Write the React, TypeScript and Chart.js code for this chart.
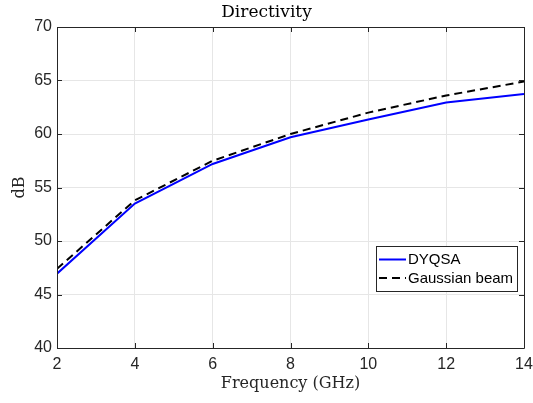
import React, { useEffect, useRef } from "react";
import { Chart, registerables } from "chart.js";

Chart.register(...registerables);

const frequencies = [2, 4, 6, 8, 10, 12, 14];
const dyqsa = [46.95, 53.5, 57.2, 59.7, 61.35, 62.95, 63.75];
const gaussianBeam = [47.4, 53.8, 57.5, 60.0, 62.0, 63.6, 64.9];
const seriesLabels = ["DYQSA", "Gaussian beam"];
const titleText = "Directivity";
const xTitle = "Frequency (GHz)";
const yTitle = "dB";

const AXIS = "#262626";
const SERIF = "'DejaVu Serif', 'Liberation Serif', serif";
const SANS = "'Liberation Sans', Arial, sans-serif";

const whiteBg = {
  id: "whiteBg",
  beforeDraw(chart: any) {
    const c = chart.ctx;
    c.save();
    c.fillStyle = "#fff";
    c.fillRect(0, 0, chart.width, chart.height);
    c.restore();
  },
};

const boxTicks = {
  id: "boxTicks",
  afterDraw(chart: any) {
    const { ctx, chartArea: a, scales } = chart;
    const xs = scales.x;
    const ys = scales.y;
    ctx.save();
    ctx.strokeStyle = AXIS;
    ctx.lineWidth = 1;
    ctx.beginPath();
    ctx.rect(Math.round(a.left) + 0.5, Math.round(a.top) + 0.5, Math.round(a.right - a.left), Math.round(a.bottom - a.top));
    const tl = 5;
    xs.ticks.forEach((t: any) => {
      const px = Math.round(xs.getPixelForValue(t.value)) + 0.5;
      ctx.moveTo(px, a.bottom);
      ctx.lineTo(px, a.bottom - tl);
      ctx.moveTo(px, a.top);
      ctx.lineTo(px, a.top + tl);
    });
    ys.ticks.forEach((t: any) => {
      const py = Math.round(ys.getPixelForValue(t.value)) + 0.5;
      ctx.moveTo(a.left, py);
      ctx.lineTo(a.left + tl, py);
      ctx.moveTo(a.right, py);
      ctx.lineTo(a.right - tl, py);
    });
    ctx.stroke();

    // legend
    const lx = 376.5, ly = 246.5, lw = 141, lh = 45;
    ctx.fillStyle = "#fff";
    ctx.fillRect(lx, ly, lw, lh);
    ctx.strokeStyle = AXIS;
    ctx.lineWidth = 1;
    ctx.strokeRect(lx, ly, lw, lh);
    ctx.font = "15px " + SANS;
    ctx.textBaseline = "middle";
    ctx.fillStyle = "#000";
    chart.data.datasets.forEach((ds: any, i: number) => {
      const y = 259.5 + i * 18.5;
      ctx.beginPath();
      ctx.strokeStyle = ds.borderColor;
      ctx.lineWidth = ds.borderWidth;
      ctx.setLineDash(ds.borderDash || []);
      ctx.moveTo(379, y);
      ctx.lineTo(406, y);
      ctx.stroke();
      ctx.setLineDash([]);
      ctx.fillText(ds.label, 408, y + 0.5);
    });
    ctx.restore();
  },
};

export default function App() {
  const ref = useRef<HTMLCanvasElement>(null);
  useEffect(() => {
    document.body.style.margin = "0";
    const chart = new Chart(ref.current!, {
      type: "line",
      data: {
        datasets: [
          {
            label: seriesLabels[0],
            data: frequencies.map((f, i) => ({ x: f, y: dyqsa[i] })),
            borderColor: "#0000ff",
            borderWidth: 2,
            pointRadius: 0,
            tension: 0,
          },
          {
            label: seriesLabels[1],
            data: frequencies.map((f, i) => ({ x: f, y: gaussianBeam[i] })),
            borderColor: "#000000",
            borderWidth: 2,
            borderDash: [8, 5],
            pointRadius: 0,
            tension: 0,
          },
        ],
      },
      options: {
        responsive: false,
        animation: false,
        devicePixelRatio: 1,
        layout: { padding: { left: 0, right: 0, top: 0, bottom: 0 } },
        plugins: {
          legend: { display: false },
          tooltip: { enabled: false },
          title: {
            display: true,
            text: titleText,
            color: "#000",
            font: { family: SERIF, size: 17, weight: "normal" },
            padding: { top: 2, bottom: 4.6 },
          },
        },
        scales: {
          x: {
            type: "linear",
            min: 2,
            max: 14,
            afterFit(s: any) {
              s.height = 55;
              s.paddingRight = 9;
            },
            ticks: {
              stepSize: 2,
              color: AXIS,
              font: { family: SANS, size: 16 },
              padding: 7,
              maxRotation: 0,
            },
            grid: { color: "#e6e6e6", drawTicks: false },
            border: { display: false },
            title: {
              display: true,
              text: xTitle,
              color: AXIS,
              font: { family: SERIF, size: 16 },
              padding: { top: 0, bottom: 9.5 },
            },
          },
          y: {
            min: 40,
            max: 70,
            afterFit(s: any) {
              s.width = 57;
            },
            ticks: {
              stepSize: 5,
              color: AXIS,
              font: { family: SANS, size: 16 },
              padding: 5,
            },
            grid: { color: "#e6e6e6", drawTicks: false },
            border: { display: false },
            title: {
              display: true,
              text: yTitle,
              color: AXIS,
              font: { family: SERIF, size: 16 },
              padding: { top: 10, bottom: 0 },
            },
          },
        },
      },
      plugins: [whiteBg, boxTicks],
    } as any);
    return () => chart.destroy();
  }, []);
  return (
    <div style={{ position: "absolute", left: 0, top: 0, width: 533, height: 403 }}>
      <canvas ref={ref} width={533} height={403} />
    </div>
  );
}
